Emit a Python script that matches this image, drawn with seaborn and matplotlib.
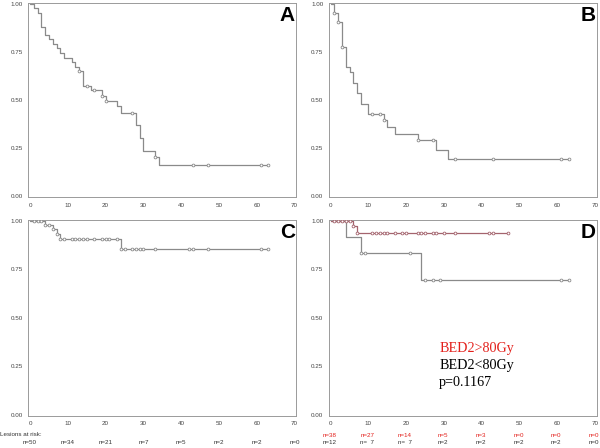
import matplotlib
matplotlib.use("Agg")
import matplotlib.pyplot as plt
import numpy as np
import pandas as pd
import seaborn as sns

# ---- data ----
# panel A
a_times = [0, 1, 2, 3, 4, 5, 6, 7, 8, 9, 11, 12, 13, 14, 16, 19, 20, 23, 24, 28, 29, 30, 33, 34]
a_surv = [1.0, 0.98, 0.953, 0.88, 0.84, 0.815, 0.79, 0.768, 0.744, 0.72, 0.695, 0.672, 0.652,
          0.575, 0.55, 0.523, 0.494, 0.466, 0.43, 0.367, 0.30, 0.232, 0.203, 0.159]
a_cens = [13, 15, 17, 19, 20, 27, 33, 43, 47, 61, 63]
a_end = 63

# panel B
b_times = [0, 1, 2, 3, 4, 5, 6, 7, 8, 10, 14, 15, 17, 23, 28, 31]
b_surv = [1.0, 0.953, 0.908, 0.778, 0.67, 0.643, 0.59, 0.537, 0.48, 0.428, 0.395, 0.36,
          0.324, 0.29, 0.24, 0.192]
b_cens = [1, 2, 3, 11, 13, 14, 23, 27, 33, 43, 61, 63]
b_end = 63

# panel C
c_times = [0, 4, 6, 7, 8, 24]
c_surv = [1.0, 0.98, 0.956, 0.932, 0.908, 0.855]
c_cens = [1, 2, 3, 4, 5, 6, 7, 8, 9, 11, 12, 13, 14, 15, 17, 19, 20, 21, 23,
          24, 25, 27, 28, 29, 30, 33, 42, 43, 47, 61, 63]
c_end = 63

# panel D
d_hi_times = [0, 6, 7]
d_hi_surv = [1.0, 0.974, 0.939]
d_hi_cens = [1, 2, 3, 4, 5, 6, 7, 11, 12, 13, 14, 15, 17, 19, 20, 23, 24, 25, 27, 28, 30,
             33, 42, 43, 47]
d_hi_end = 47
d_lo_times = [0, 4, 8, 24]
d_lo_surv = [1.0, 0.918, 0.834, 0.692]
d_lo_cens = [8, 9, 21, 25, 27, 29, 61, 63]
d_lo_end = 63

risk_ticks = [0, 10, 20, 30, 40, 50, 60, 70]
risk_all = ["n=50", "n=34", "n=21", "n=7", "n=5", "n=2", "n=2", "n=0"]
risk_hi = ["n=38", "n=27", "n=14", "n=5", "n=3", "n=0", "n=0", "n=0"]
risk_lo = ["n=12", "n=  7", "n=  7", "n=2", "n=2", "n=2", "n=2", "n=0"]

GREY = "#8a8a8a"
MAUVE = "#a4646e"
RED = "#e3211c"


def km_frame(times, surv, end):
    t = list(times) + [end]
    s = list(surv) + [surv[-1]]
    return pd.DataFrame({"time": t, "surv": s})


def cens_frame(times, surv, cens):
    idx = np.searchsorted(times, cens, side="right") - 1
    return pd.DataFrame({"time": cens, "surv": np.array(surv)[idx]})


def draw_km(ax, times, surv, cens, end, color):
    sns.lineplot(data=km_frame(times, surv, end), x="time", y="surv", ax=ax,
                 drawstyle="steps-post", color=color, linewidth=0.9,
                 estimator=None, sort=False)
    sns.scatterplot(data=cens_frame(times, surv, cens), x="time", y="surv", ax=ax,
                    marker="o", s=4, facecolor="white", edgecolor=color,
                    linewidth=0.6, zorder=3)


def style_axis(ax, letter):
    ax.set_xlim(-0.5, 70.5)
    ax.set_ylim(-0.006, 1.004)
    ax.set_xticks(risk_ticks)
    ax.set_yticks([0, 0.25, 0.5, 0.75, 1.0])
    ax.set_yticklabels(["0.00", "0.25", "0.50", "0.75", "1.00"])
    ax.set_xlabel("")
    ax.set_ylabel("")
    ax.tick_params(labelsize=4.5, labelcolor="#444444", length=2, width=0.5,
                   color=GREY, pad=2)
    for sp in ax.spines.values():
        sp.set_color("#9a9a9a")
        sp.set_linewidth(0.7)
    ax.grid(False)
    ax.text(0.995, 0.985, letter, transform=ax.transAxes, ha="right", va="top",
            fontsize=15, fontweight="bold", family="Liberation Sans", color="black")


sns.set_style("white")
plt.rcParams["font.family"] = ["Liberation Sans", "DejaVu Sans"]

fig = plt.figure(figsize=(6, 4.48), dpi=100)
ax_a = fig.add_axes([0.047, 0.560, 0.447, 0.433])
ax_b = fig.add_axes([0.548, 0.560, 0.447, 0.433])
ax_c = fig.add_axes([0.047, 0.072, 0.447, 0.437])
ax_d = fig.add_axes([0.548, 0.072, 0.447, 0.437])

draw_km(ax_a, a_times, a_surv, a_cens, a_end, GREY)
draw_km(ax_b, b_times, b_surv, b_cens, b_end, GREY)
draw_km(ax_c, c_times, c_surv, c_cens, c_end, GREY)
draw_km(ax_d, d_lo_times, d_lo_surv, d_lo_cens, d_lo_end, GREY)
draw_km(ax_d, d_hi_times, d_hi_surv, d_hi_cens, d_hi_end, MAUVE)

for ax, letter in zip([ax_a, ax_b, ax_c, ax_d], "ABCD"):
    style_axis(ax, letter)

# legend text in panel D
ax_d.text(0.412, 0.342, "BED2>80Gy", transform=ax_d.transAxes, color=RED,
          fontsize=10.2, family="Liberation Serif", va="center")
ax_d.text(0.412, 0.255, "BED2<80Gy", transform=ax_d.transAxes, color="black",
          fontsize=10.2, family="Liberation Serif", va="center")
ax_d.text(0.412, 0.168, "p=0.1167", transform=ax_d.transAxes, color="black",
          fontsize=10.2, family="Liberation Serif", va="center")

# numbers at risk
trans_c = ax_c.get_xaxis_transform()
ax_c.text(-0.105, -0.097, "Lesions at risk:", transform=ax_c.transAxes,
          fontsize=4.5, color="#333333", va="center", ha="left")
for x, lab in zip(risk_ticks, risk_all):
    ax_c.text(x, -0.138, lab, transform=trans_c, fontsize=4.5,
              color="#333333", ha="center", va="center", clip_on=False)

trans_d = ax_d.get_xaxis_transform()
for x, lab in zip(risk_ticks, risk_hi):
    ax_d.text(x - 0.3, -0.099, lab, transform=trans_d, fontsize=4.5,
              color=RED, ha="center", va="center")
for x, lab in zip(risk_ticks, risk_lo):
    ax_d.text(x - 0.3, -0.138, lab, transform=trans_d, fontsize=4.5,
              color="#333333", ha="center", va="center")

fig.savefig("out.png", dpi=100)
